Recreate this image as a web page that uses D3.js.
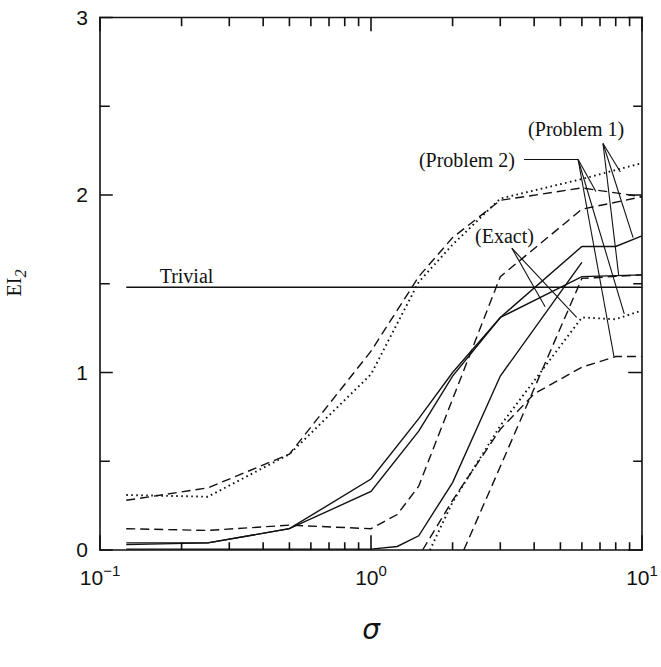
<!DOCTYPE html>
<html>
<head>
<meta charset="utf-8">
<script src="https://cdn.jsdelivr.net/npm/d3@7"></script>
<style>
  body { margin: 0; background: #fff; }
  svg { display: block; }
</style>
</head>
<body>
<div id="chart"></div>
<script>
// curves, sigma on a log axis
var sigmaUpper = [0.125, 0.25, 0.5, 1, 1.5, 2, 3, 6, 10]
var upperDotted = [0.31, 0.30, 0.54, 0.99, 1.51, 1.72, 1.98, 2.09, 2.18]
var upperDashed = [0.28, 0.35, 0.54, 1.12, 1.54, 1.76, 1.97, 2.04, 1.99]

var sigmaMid = [0.125, 0.25, 0.5, 1, 1.25, 1.5, 2, 3, 6, 10]
var midDashed = [0.12, 0.11, 0.14, 0.12, 0.2, 0.36, 0.85, 1.54, 1.92, 1.99]

var sigmaSolidA = [0.125, 0.25, 0.5, 1, 1.5, 2, 3, 6, 8, 10]
var solidA = [0.04, 0.04, 0.12, 0.40, 0.74, 1.0, 1.31, 1.71, 1.71, 1.77]
var sigmaSolidB = [0.125, 0.25, 0.5, 1, 1.5, 2, 3, 6, 10]
var solidB = [0.03, 0.04, 0.12, 0.33, 0.67, 0.98, 1.31, 1.54, 1.55]

var sigmaExact = [0.125, 0.25, 0.5, 1, 1.25, 1.5, 2, 3, 6]
var exactSolid = [0.005, 0.005, 0.005, 0.005, 0.02, 0.08, 0.38, 0.98, 1.62]

var sigmaLowDotted = [1.65, 2, 3, 6, 8, 10]
var lowDotted = [0, 0.27, 0.70, 1.31, 1.30, 1.35]
var sigmaLowDashed = [1.55, 2, 3, 4, 6, 8, 10]
var lowDashed = [0, 0.28, 0.68, 0.88, 1.03, 1.09, 1.09]
var sigmaSteep = [2.2, 3, 6, 10]
var steepDashed = [0, 0.47, 1.53, 1.55]

var trivial = 1.48
var trivialFrom = 0.125

var xMajor = [0.1, 1, 10]
var xExp = ['\u22121', '0', '1']
var xMinor = [0.2, 0.3, 0.4, 0.5, 0.6, 0.7, 0.8, 0.9, 2, 3, 4, 5, 6, 7, 8, 9]
var yMajor = [0, 1, 2, 3]
var yMinor = [0.5, 1.5, 2.5]

var width = 661,
    height = 667

var x = d3.scaleLog().domain([0.1, 10]).range([100, 642])
var y = d3.scaleLinear().domain([0, 3]).range([550, 17.5])

var svg = d3.select('#chart')
  .append('svg')
    .attr('width', width)
    .attr('height', height)

var ink = '#111'
var plotL = x.range()[0], plotR = x.range()[1],
    plotB = y.range()[0], plotT = y.range()[1]

// each side of the frame with its inward ticks, as its own path
function side(vals, scale, horizontal, edge, from, to, len, majorVals, majorLen){
  var p = d3.path()
  if (horizontal) { p.moveTo(from, edge); p.lineTo(to, edge) }
  else { p.moveTo(edge, from); p.lineTo(edge, to) }
  vals.concat(majorVals).forEach(function(v){
    var l = majorVals.indexOf(v) < 0 ? len : majorLen
    var c = scale(v)
    if (horizontal) { p.moveTo(c, edge); p.lineTo(c, edge + l) }
    else { p.moveTo(edge, c); p.lineTo(edge + l, c) }
  })
  svg.append('path')
      .attr('d', p.toString())
      .attr('fill', 'none')
      .attr('stroke', ink)
      .attr('stroke-width', 1.6)
      .attr('stroke-linecap', 'square')
}
side(xMinor, x, true, plotB, plotL, plotR, -7, xMajor, -14)
side(xMinor, x, true, plotT, plotL, plotR, 8, xMajor, 13)
side(yMinor, y, false, plotL, plotB, plotT, 9, yMajor, 12)
side(yMinor, y, false, plotR, plotB, plotT, -8, yMajor, -13)

// tick labels
svg.selectAll('.ylab')
    .data(yMajor)
  .enter().append('text')
    .attr('x', 88)
    .attr('y', function(d){ return y(d) + 7 })
    .attr('text-anchor', 'end')
    .attr('font-family', 'Liberation Sans, Arial, sans-serif')
    .attr('font-size', 21)
    .attr('fill', ink)
    .text(function(d){ return d })

var xl = svg.selectAll('.xlab')
    .data(xMajor)
  .enter().append('text')
    .attr('x', function(d){ return x(d) })
    .attr('y', 585)
    .attr('text-anchor', 'middle')
    .attr('font-family', 'Liberation Sans, Arial, sans-serif')
    .attr('font-size', 21)
    .attr('fill', ink)
xl.append('tspan').text('10')
xl.append('tspan')
    .attr('dy', -9)
    .attr('font-size', 15)
    .text(function(d, i){ return xExp[i] })

// axis titles
svg.append('text')
    .attr('x', 371).attr('y', 639)
    .attr('text-anchor', 'middle')
    .attr('font-family', 'DejaVu Sans, sans-serif')
    .attr('font-style', 'italic')
    .attr('font-size', 28)
    .attr('fill', ink)
    .text('\u03c3')

var yt = svg.append('text')
    .attr('transform', 'translate(21,283) rotate(-90)')
    .attr('text-anchor', 'middle')
    .attr('font-family', 'Liberation Serif, serif')
    .attr('font-size', 20)
    .attr('fill', ink)
yt.append('tspan').text('EI')
yt.append('tspan')
    .attr('dy', 5)
    .attr('font-size', 16)
    .attr('font-style', 'italic')
    .text('2')

// curves, each clipped to the plot box by hand through the scales' domain
var line = d3.line()
    .x(function(d){ return x(d[0]) })
    .y(function(d){ return y(d[1]) })

var dashed = '9,5',
    dotted = '1.6,3.4'

var curves = [
  [sigmaUpper, upperDotted, dotted],
  [sigmaUpper, upperDashed, dashed],
  [sigmaMid, midDashed, dashed],
  [sigmaSolidA, solidA, null],
  [sigmaSolidB, solidB, null],
  [sigmaExact, exactSolid, null],
  [sigmaLowDotted, lowDotted, dotted],
  [sigmaLowDashed, lowDashed, dashed],
  [sigmaSteep, steepDashed, dashed]
]

curves.forEach(function(c){
  svg.append('path')
      .datum(d3.zip(c[0], c[1]))
      .attr('d', line)
      .attr('fill', 'none')
      .attr('stroke', ink)
      .attr('stroke-width', c[2] === dotted ? 1.9 : 1.4)
      .attr('stroke-dasharray', c[2])
})

svg.append('path')
    .datum([[trivialFrom, trivial], [10, trivial]])
    .attr('d', line)
    .attr('fill', 'none')
    .attr('stroke', ink)
    .attr('stroke-width', 1.4)

// annotations, placed in data units
function label(t, at, anchor){
  svg.append('text')
      .attr('x', x(at[0])).attr('y', y(at[1]))
      .attr('text-anchor', anchor)
      .attr('font-family', 'Liberation Serif, Times New Roman, serif')
      .attr('font-size', 20)
      .attr('fill', ink)
      .text(t)
}
function leaders(apex, targets){
  targets.forEach(function(t){
    svg.append('path')
        .attr('d', line([apex, t]))
        .attr('fill', 'none')
        .attr('stroke', ink)
        .attr('stroke-width', 1.1)
  })
}

label('Trivial', [0.166, 1.504], 'start')
label('(Exact)', [2.42, 1.73], 'start')
label('(Problem 1)', [3.8, 2.33], 'start')
label('(Problem 2)', [3.4, 2.16], 'end')

var p2Apex = [5.81, 2.2]
leaders([3.67, 2.2], [p2Apex])
leaders(p2Apex, [[6.76, 2.02], [7.88, 1.09], [8.6, 1.33]])
leaders([7.18, 2.29], [[8.32, 2.13], [9.27, 1.76], [8.2, 1.55]])
leaders([3.31, 1.7], [[4.39, 1.37], [5.74, 1.31]])
</script>
</body>
</html>
